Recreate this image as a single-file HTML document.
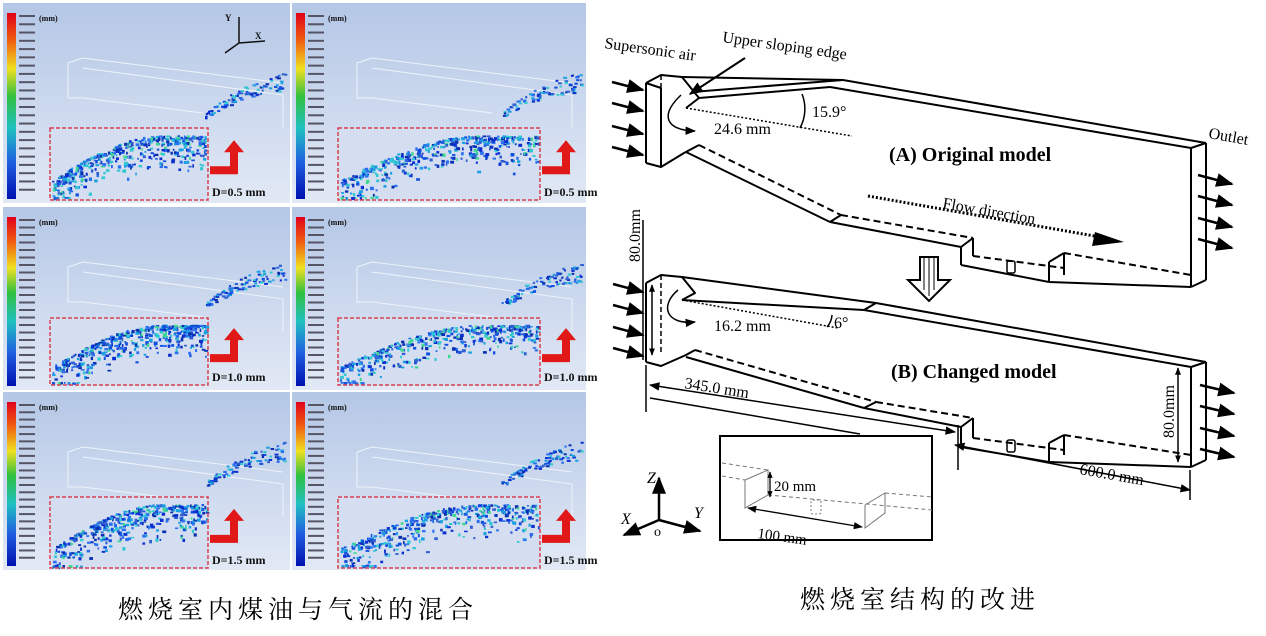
<!DOCTYPE html>
<html><head><meta charset="utf-8"><style>
html,body{margin:0;padding:0;background:#fff;width:1266px;height:636px;overflow:hidden}
svg{display:block}
.cap{font-family:"Liberation Serif","Noto Serif CJK SC","Noto Sans CJK SC",serif;font-size:25px;letter-spacing:5px;fill:#000}
.t{font-family:"Liberation Serif",serif;fill:#000}
</style></head><body>
<svg id="s" width="1266" height="636" viewBox="0 0 1266 636" xmlns="http://www.w3.org/2000/svg">
<defs>
<linearGradient id="bg" x1="0" y1="0" x2="0" y2="1"><stop offset="0" stop-color="#b4c7e6"/><stop offset="1" stop-color="#e2e9f5"/></linearGradient>
<linearGradient id="cb" x1="0" y1="0" x2="0" y2="1"><stop offset="0" stop-color="#e0001a"/><stop offset="0.15" stop-color="#f06010"/><stop offset="0.3" stop-color="#f0e020"/><stop offset="0.45" stop-color="#30c040"/><stop offset="0.62" stop-color="#20c0c0"/><stop offset="0.8" stop-color="#2060e0"/><stop offset="1" stop-color="#0010b0"/></linearGradient>
<marker id="ah" viewBox="0 0 10 10" refX="9" refY="5" markerWidth="7" markerHeight="7" orient="auto-start-reverse"><path d="M0,1 L10,5 L0,9 z" fill="#000"/></marker>
<marker id="as" viewBox="0 0 10 10" refX="9" refY="5" markerWidth="5" markerHeight="5" orient="auto-start-reverse"><path d="M0,1 L10,5 L0,9 z" fill="#000"/></marker>
</defs>
<g id="left"></g>
<text class="cap" x="118" y="618">燃烧室内煤油与气流的混合</text>
<text class="cap" x="800" y="608">燃烧室结构的改进</text>

<g fill="none" stroke="#000" stroke-width="2" stroke-linejoin="round">
<polyline points="646,83 661,75 682,77 699,98 686,108"/>
<line x1="646" y1="83" x2="646" y2="163"/><line x1="661" y1="75" x2="661" y2="167" stroke-dasharray="5,3" stroke-width="1.5"/>
<line x1="646" y1="83" x2="661" y2="88"/><line x1="661" y1="88" x2="661" y2="167"/>
<line x1="682" y1="77" x2="843" y2="80"/><line x1="699" y1="98" x2="830" y2="87"/><line x1="692" y1="92" x2="843" y2="80"/>
<line x1="843" y1="80" x2="1206" y2="143"/><line x1="830" y1="87" x2="1191" y2="148"/>
<line x1="1206" y1="143" x2="1191" y2="148"/>
<line x1="1206" y1="143" x2="1206" y2="280"/><line x1="1191" y1="148" x2="1191" y2="287"/><line x1="1206" y1="280" x2="1191" y2="287"/>
<polyline points="646,163 661,167 684,153 699,145"/>
<line x1="699" y1="145" x2="841" y2="215" stroke-dasharray="7,4"/><line x1="686" y1="152" x2="830" y2="222"/>
<line x1="841" y1="215" x2="973" y2="238" stroke-dasharray="7,4"/><line x1="830" y1="222" x2="961" y2="247"/>
<line x1="841" y1="215" x2="830" y2="222"/>
<line x1="973" y1="238" x2="973" y2="256"/><line x1="961" y1="247" x2="973" y2="238"/>
<line x1="961" y1="247" x2="961" y2="265"/><line x1="961" y1="265" x2="1049" y2="282"/>
<line x1="973" y1="256" x2="1064" y2="268" stroke-dasharray="7,4"/>
<line x1="1049" y1="262" x2="1049" y2="282"/><line x1="1049" y1="262" x2="1064" y2="253"/><line x1="1064" y1="253" x2="1064" y2="275"/>
<line x1="1064" y1="253" x2="1191" y2="275" stroke-dasharray="7,4"/>
<line x1="1049" y1="282" x2="1191" y2="287"/>
<polyline points="646,283 661,275 682,277 695,293 682,300"/>
<line x1="646" y1="283" x2="646" y2="362"/><line x1="661" y1="275" x2="661" y2="353" stroke-dasharray="5,3" stroke-width="1.5"/>
<line x1="682" y1="277" x2="876" y2="303"/><line x1="682" y1="300" x2="864" y2="310"/>
<line x1="876" y1="303" x2="864" y2="310"/>
<line x1="876" y1="303" x2="1206" y2="362"/><line x1="864" y1="310" x2="1191" y2="367"/>
<line x1="1206" y1="362" x2="1191" y2="367"/>
<line x1="1206" y1="362" x2="1206" y2="460"/><line x1="1191" y1="367" x2="1191" y2="467"/><line x1="1206" y1="460" x2="1191" y2="467"/>
<polyline points="646,362 661,366 686,355 695,350"/>
<line x1="695" y1="350" x2="876" y2="402" stroke-dasharray="7,4"/><line x1="686" y1="357" x2="864" y2="408"/>
<line x1="876" y1="402" x2="973" y2="418" stroke-dasharray="7,4"/><line x1="864" y1="408" x2="961" y2="427"/>
<line x1="876" y1="402" x2="864" y2="408"/>
<line x1="973" y1="418" x2="973" y2="438"/><line x1="961" y1="427" x2="973" y2="418"/>
<line x1="961" y1="427" x2="961" y2="447"/><line x1="961" y1="447" x2="1049" y2="462"/>
<line x1="973" y1="438" x2="1064" y2="450" stroke-dasharray="7,4"/>
<line x1="1049" y1="443" x2="1049" y2="462"/><line x1="1049" y1="443" x2="1064" y2="435"/><line x1="1064" y1="435" x2="1064" y2="455"/>
<line x1="1064" y1="435" x2="1191" y2="455" stroke-dasharray="7,4"/>
<line x1="1049" y1="462" x2="1191" y2="467"/>
</g>
<g fill="none" stroke="#000" stroke-width="1.5"><rect x="1007" y="261" width="8" height="12" rx="2"/><rect x="1007" y="440" width="8" height="12" rx="2"/></g>
<g fill="none" stroke="#000" stroke-width="1.5" stroke-dasharray="2,2">
<line x1="686" y1="108" x2="852" y2="136"/><line x1="682" y1="300" x2="838" y2="328"/>
<line x1="868" y1="196" x2="1100" y2="237" stroke-width="3"/>
</g>
<path d="M1095,232 L1124,242 L1092,246 z" fill="#000"/>
<g fill="none" stroke="#000" stroke-width="1.5">
<path d="M802,94 A40,40 0 0 1 800,128"/><path d="M832,315 A20,20 0 0 1 827,327"/>
<path d="M681,95 C660,115 665,130 695,131" marker-end="url(#ah)"/>
<path d="M678,290 C660,305 665,325 695,322" marker-end="url(#ah)"/>
<line x1="745" y1="58" x2="690" y2="94" marker-end="url(#ah)" stroke-width="2"/>
</g>
<g stroke="#000" stroke-width="2.5" marker-end="url(#ah)">
<line x1="612" y1="82" x2="643" y2="90"/><line x1="612" y1="103" x2="643" y2="111"/><line x1="612" y1="126" x2="643" y2="134"/><line x1="612" y1="147" x2="643" y2="155"/>
<line x1="613" y1="284" x2="643" y2="292"/><line x1="613" y1="305" x2="643" y2="313"/><line x1="613" y1="327" x2="643" y2="335"/><line x1="613" y1="348" x2="643" y2="356"/>
<line x1="1198" y1="175" x2="1232" y2="184"/><line x1="1198" y1="196" x2="1232" y2="205"/><line x1="1198" y1="218" x2="1232" y2="227"/><line x1="1198" y1="239" x2="1232" y2="248"/>
<line x1="1200" y1="385" x2="1234" y2="393"/><line x1="1200" y1="406" x2="1234" y2="414"/><line x1="1200" y1="428" x2="1234" y2="436"/><line x1="1200" y1="449" x2="1234" y2="457"/>
</g>
<path d="M920,257 L938,257 L938,280 L950,280 L929,301 L908,280 L920,280 z" fill="#fff" stroke="#000" stroke-width="2"/>
<g stroke="#000" stroke-width="1"><line x1="924" y1="258" x2="924" y2="290"/><line x1="929" y1="258" x2="929" y2="296"/><line x1="934" y1="258" x2="934" y2="290"/></g>
<g stroke="#000" stroke-width="1.5" fill="none">
<line x1="643" y1="220" x2="643" y2="360"/>
<line x1="652" y1="285" x2="652" y2="355" marker-start="url(#as)" marker-end="url(#as)"/>
<line x1="646" y1="365" x2="646" y2="412"/>
<line x1="650" y1="385" x2="955" y2="432" marker-start="url(#ah)" marker-end="url(#ah)"/>
<line x1="650" y1="398" x2="860" y2="434"/>
<line x1="958" y1="425" x2="958" y2="470"/>
<line x1="955" y1="445" x2="1190" y2="490" marker-start="url(#ah)" marker-end="url(#ah)"/>
<line x1="1190" y1="470" x2="1190" y2="500"/>
<line x1="1178" y1="368" x2="1178" y2="462" marker-start="url(#as)" marker-end="url(#as)"/>
</g>
<rect x="720" y="436" width="212" height="104" fill="#fff" stroke="#000" stroke-width="2"/>
<g stroke="#777" stroke-width="1" fill="none">
<line x1="722" y1="463" x2="768" y2="470" stroke-dasharray="4,3"/><line x1="722" y1="476" x2="745" y2="480" stroke-dasharray="4,3"/>
<polyline points="745,480 768,470 768,495 745,508 745,480"/>
<line x1="768" y1="495" x2="932" y2="510" stroke-dasharray="4,3"/>
<polyline points="865,505 885,493 885,513 865,528 865,505"/>
<line x1="885" y1="493" x2="932" y2="497" stroke-dasharray="4,3"/>
<rect x="811" y="500" width="10" height="14" rx="2" stroke-dasharray="2,2"/>
</g>
<g stroke="#000" stroke-width="1.3"><line x1="770" y1="472" x2="770" y2="497" marker-start="url(#as)" marker-end="url(#as)"/>
<line x1="748" y1="508" x2="862" y2="527" marker-start="url(#ah)" marker-end="url(#ah)"/></g>
<g stroke="#000" stroke-width="2.5"><line x1="659" y1="520" x2="659" y2="478" marker-end="url(#ah)"/><line x1="659" y1="520" x2="700" y2="531" marker-end="url(#ah)"/><line x1="659" y1="520" x2="624" y2="535" marker-end="url(#ah)"/></g>
<g class="t" font-size="16">
<text x="604" y="48" transform="rotate(8 604 48)">Supersonic air</text>
<text x="722" y="42" transform="rotate(8 722 42)">Upper sloping edge</text>
<text x="812" y="117">15.9°</text>
<text x="714" y="134">24.6 mm</text>
<text x="1208" y="138" transform="rotate(10 1208 138)">Outlet</text>
<text x="942" y="208" transform="rotate(10 942 208)">Flow direction</text>
<text x="714" y="331">16.2 mm</text>
<text x="834" y="328">6°</text>
<text x="684" y="388" transform="rotate(9 684 388)">345.0 mm</text>
<text x="1079" y="474" transform="rotate(10 1079 474)">600.0 mm</text>
<text x="640" y="262" transform="rotate(-90 640 262)">80.0mm</text>
<text x="1174" y="438" transform="rotate(-90 1174 438)">80.0mm</text>
<text x="774" y="491" font-size="15">20 mm</text>
<text x="757" y="538" font-size="15" transform="rotate(8 757 538)">100 mm</text>
<text x="647" y="483" font-style="italic">Z</text><text x="694" y="518" font-style="italic">Y</text><text x="621" y="524" font-style="italic">X</text><text x="654" y="536" font-size="14">o</text>
<text x="889" y="161" font-size="20" font-weight="bold">(A)  Original model</text>
<text x="891" y="378" font-size="20" font-weight="bold">(B)  Changed model</text>
</g>
</svg>
<script>
var NS="http://www.w3.org/2000/svg",L=document.getElementById("left");
var seed=7;function r(){seed=(seed*16807)%2147483647;return seed/2147483647;}
function el(t,a,p){var e=document.createElementNS(NS,t);for(var k in a)e.setAttribute(k,a[k]);(p||L).appendChild(e);return e;}
function tx(x,y,s,sz,w){var e=el("text",{x:x,y:y,"font-family":"Liberation Serif,serif","font-size":sz,"font-weight":w||"normal",fill:"#111"});e.textContent=s;}
var cols=[[3,287],[292,294]],rows=[[3,200,128,200,"0.5"],[207,183,318,385,"1.0"],[392,178,497,568,"1.5"]];
var pal=["#0a2fd0","#1050e0","#2a70f0","#1aa0e0","#30c8d0","#3060d0","#0830b0"];
rows.forEach(function(R){cols.forEach(function(C,ci){
 var x=C[0],y=R[0],w=C[1],h=R[1];
 el("rect",{x:x,y:y,width:w,height:h,fill:"url(#bg)"});
 el("rect",{x:x+4,y:y+10,width:9,height:h-14,fill:"url(#cb)"});
 for(var i=0;i<22;i++){el("rect",{x:x+16,y:y+12+i*(h-18)/22,width:16,height:2,fill:"#556"});}
 tx(x+36,y+18,"(mm)",8,"bold");
 el("path",{d:"M"+(x+65)+","+(y+60)+" L"+(x+80)+","+(y+55)+" L"+(x+280)+","+(y+80)+" M"+(x+65)+","+(y+60)+" L"+(x+65)+","+(y+95)+" L"+(x+80)+","+(y+95)+" L"+(x+200)+","+(y+110)+" M"+(x+80)+","+(y+65)+" L"+(x+280)+","+(y+92)+" L"+(x+280)+","+(y+125),stroke:"#eef3fb","stroke-width":1,fill:"none"});
 if(ci==0&&R[4]=="0.5"){tx(x+222,y+18,"Y",9,"bold");tx(x+252,y+36,"X",9,"bold");el("path",{d:"M"+(x+236)+","+(y+40)+" L"+(x+236)+","+(y+14)+" M"+(x+236)+","+(y+40)+" L"+(x+262)+","+(y+38)+" M"+(x+236)+","+(y+40)+" L"+(x+222)+","+(y+50),stroke:"#111","stroke-width":1.5,fill:"none"});}
 for(var i=0;i<90;i++){var t=r();var px=x+w-85+t*80,py=y+(R[2]-y)-38+Math.pow(1-t,2)*25-t*8+(r()-0.5)*14*(0.4+t);el("rect",{x:px,y:py,width:2+r()*2,height:2,fill:pal[i%7]});}
 var ix=x+(ci?46:47),iw=(ci?202:158),iy=R[2],ih=R[3]-R[2];
 el("rect",{x:ix,y:iy,width:iw,height:ih,fill:"#d4def0"});
 for(var i=0;i<420;i++){var t=r();var px=ix+2+t*(iw-4);var top=iy+ih*(0.72-0.62*Math.sin(Math.min(t*2.2,1.57)));var py=top+r()*r()*ih*0.55;if(py>iy+ih-2)py=iy+ih-3;var c=pal[Math.floor(r()*7)];if(r()<0.06)c="#40d890";el("rect",{x:px,y:py,width:1.5+r()*2.5,height:1.5+r()*2,fill:c});}
 el("rect",{x:ix,y:iy,width:iw,height:ih,fill:"none",stroke:"#d84050","stroke-width":1.5,"stroke-dasharray":"4,2"});
 var ax=ix+iw+2,ay=iy+ih*0.42;
 el("path",{d:"M"+ax+","+(ay+8)+" h20 v-14 h-6 l10,-12 l10,12 h-6 v22 h-28 z",fill:"#e01818"});
 tx(ax+2,iy+ih-4,"D="+R[4]+" mm",12,"bold");
});});
</script>
</body></html>
